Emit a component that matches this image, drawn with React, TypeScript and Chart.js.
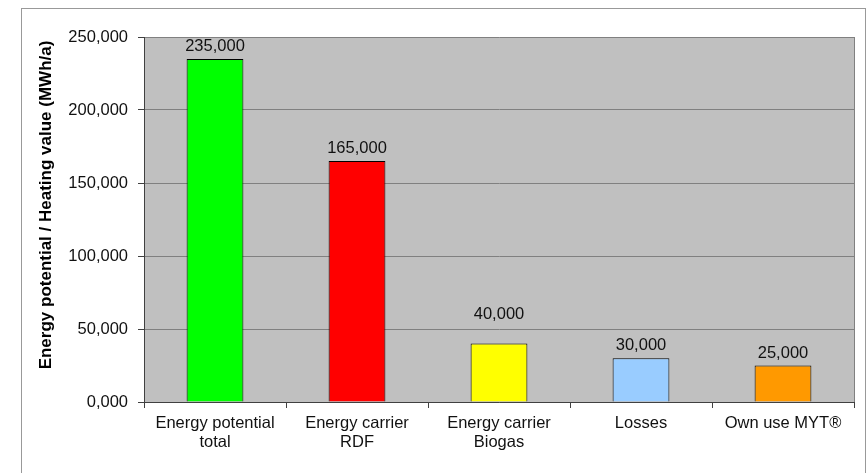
import React, { useEffect, useRef } from "react";
import { Chart, registerables } from "chart.js";

Chart.register(...registerables);

const categories: string[][] = [
  ["Energy potential", "total"],
  ["Energy carrier", "RDF"],
  ["Energy carrier", "Biogas"],
  ["Losses"],
  ["Own use MYT®"],
];
const values: number[] = [235000, 165000, 40000, 30000, 25000];
const barColors: string[] = ["#00FF00", "#FF0000", "#FFFF00", "#99CCFF", "#FF9900"];
const yTickLabels: string[] = ["0,000", "50,000", "100,000", "150,000", "200,000", "250,000"];
const yTitle = "Energy potential / Heating value (MWh/a)";

const FONT = '"Liberation Sans", Arial, sans-serif';

export default function App() {
  const ref = useRef<HTMLCanvasElement | null>(null);

  useEffect(() => {
    if (!ref.current) return;
    const decor = {
      id: "decor",
      beforeDraw(chart: any) {
        const { ctx, chartArea } = chart;
        ctx.save();
        ctx.fillStyle = "#FFFFFF";
        ctx.fillRect(0, 0, chart.width, chart.height);
        ctx.strokeStyle = "#999999";
        ctx.lineWidth = 1;
        ctx.strokeRect(21.5, 8.5, 844, 500);
        ctx.fillStyle = "#C0C0C0";
        ctx.fillRect(chartArea.left, chartArea.top, chartArea.right - chartArea.left, chartArea.bottom - chartArea.top);
        ctx.restore();
      },
      afterDatasetsDraw(chart: any) {
        const { ctx } = chart;
        const meta = chart.getDatasetMeta(0);
        const yScale = chart.scales.y;
        const gridYs: number[] = yScale.ticks.map((t: any) => yScale.getPixelForValue(t.value));
        ctx.save();
        ctx.font = `16.5px ${FONT}`;
        ctx.fillStyle = "#111111";
        ctx.textAlign = "center";
        ctx.textBaseline = "bottom";
        meta.data.forEach((bar: any, i: number) => {
          let bottom = bar.y - 4;
          const top = bottom - 16;
          const hit = gridYs.find((g) => g >= top && g <= bottom + 2 && g < bar.y - 1);
          if (hit !== undefined) bottom = hit - 6;
          ctx.fillText(values[i].toLocaleString("en-US"), bar.x, bottom);
        });
        ctx.restore();
      },
      afterDraw(chart: any) {
        const { ctx, chartArea } = chart;
        ctx.save();
        ctx.strokeStyle = "#808080";
        ctx.lineWidth = 1;
        ctx.beginPath();
        ctx.moveTo(chartArea.right + 0.5, chartArea.top);
        ctx.lineTo(chartArea.right + 0.5, chartArea.bottom);
        ctx.stroke();
        ctx.translate(46, 205);
        ctx.rotate(-Math.PI / 2);
        ctx.font = `bold 17px ${FONT}`;
        ctx.fillStyle = "#000000";
        ctx.textAlign = "center";
        ctx.textBaseline = "middle";
        ctx.fillText(yTitle, 0, 0);
        ctx.restore();
      },
    };

    const chart = new Chart(ref.current, {
      type: "bar",
      data: {
        labels: categories,
        datasets: [
          {
            data: values,
            backgroundColor: barColors,
            borderColor: "#000000",
            borderWidth: 1,
            barPercentage: 0.4,
            categoryPercentage: 1,
          },
        ],
      },
      options: {
        responsive: false,
        animation: false,
        layout: { padding: { top: 37, right: 14, left: 0, bottom: 0 } },
        plugins: {
          legend: { display: false },
          tooltip: { enabled: false },
          title: { display: false },
        },
        scales: {
          x: {
            afterFit: (s: any) => {
              s.height = 71;
            },
            grid: {
              display: true,
              drawOnChartArea: false,
              drawTicks: true,
              tickLength: 6,
              tickColor: "#404040",
              offset: true,
            },
            border: { display: true, color: "#404040", width: 1 },
            ticks: {
              color: "#111111",
              font: { family: FONT, size: 16.5, lineHeight: 1.15 },
              padding: 6,
              maxRotation: 0,
              autoSkip: false,
            },
          },
          y: {
            min: 0,
            max: 250000,
            afterFit: (s: any) => {
              s.width = 144;
            },
            grid: {
              color: "#808080",
              tickColor: "#404040",
              drawTicks: true,
              tickLength: 6,
            },
            border: { display: true, color: "#404040", width: 1 },
            ticks: {
              stepSize: 50000,
              color: "#111111",
              font: { family: FONT, size: 16.5 },
              padding: 10,
              callback: (_v: any, i: number) => yTickLabels[i],
            },
          },
        },
      },
      plugins: [decor],
    });
    return () => chart.destroy();
  }, []);

  return (
    <div style={{ position: "absolute", left: 0, top: 0, width: 868, height: 473 }}>
      <canvas ref={ref} width={868} height={473} style={{ display: "block", width: 868, height: 473 }} />
    </div>
  );
}
